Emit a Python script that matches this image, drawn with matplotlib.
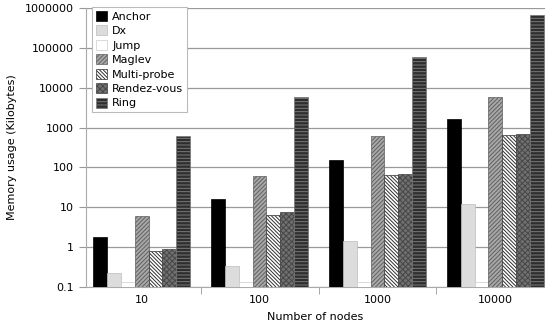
import numpy as np
import matplotlib
matplotlib.use("Agg")
from matplotlib import pyplot as plt

# Memory usage per algorithm (Kilobytes)
nodes = ["10", "100", "1000", "10000"]
anchor = [1.8, 16, 150, 1600]
dx = [0.22, 0.33, 1.4, 12]
jump = [0.13, 0.13, 0.13, 0.13]
maglev = [6, 60, 600, 6000]
multiprobe = [0.8, 6.5, 65, 650]
rendezvous = [0.9, 7.5, 70, 700]
ring = [600, 6000, 60000, 650000]

series = [
    ("Anchor", anchor, "black", None, "black"),
    ("Dx", dx, "#dcdcdc", None, "#bbbbbb"),
    ("Jump", jump, "white", None, "#cccccc"),
    ("Maglev", maglev, "#a8a8a8", "/" * 8, "#606060"),
    ("Multi-probe", multiprobe, "white", "\\" * 9, "#303030"),
    ("Rendez-vous", rendezvous, "#707070", "x" * 6, "#474747"),
    ("Ring", ring, "#2e2e2e", "-" * 5, "#7a7a7a"),
]

plt.rcParams['font.family'] = ['DejaVu Sans']
plt.rcParams['hatch.linewidth'] = 0.7

fig = plt.figure(figsize=(5.45, 3.31), dpi=100)
ax = fig.add_axes([0.158, 0.133, 0.842, 0.843])

x = np.arange(len(nodes))
w = 0.118
for i, (name, vals, fc, hatch, ec) in enumerate(series):
    off = (i - 3) * w
    plt.rcParams['hatch.color'] = ec
    ax.bar(x + off, vals, w, color=fc, hatch=hatch, edgecolor=ec,
           linewidth=0.5, label=name, zorder=3)

ax.set_yscale('log')
ax.set_ylim(0.1, 1000000)
ax.set_yticks([0.1, 1, 10, 100, 1000, 10000, 100000, 1000000])
ax.set_yticklabels(["0.1", "1", "10", "100", "1000", "10000", "100000", "1000000"])
ax.yaxis.set_minor_locator(matplotlib.ticker.NullLocator())
ax.set_xlim(-0.47, 3.42)
ax.set_xticks(x)
ax.set_xticklabels(nodes)
ax.set_xticks([0.5, 1.5, 2.5], minor=True)
ax.tick_params(axis='x', which='major', length=0, labelsize=8, pad=6)
ax.tick_params(axis='x', which='minor', length=5, color='#999999')
ax.tick_params(axis='y', labelsize=8, length=5, color='#999999')

ax.grid(axis='y', color='#999999', linewidth=0.9, zorder=0)
for s in ['top', 'right']:
    ax.spines[s].set_visible(False)
for s in ['left', 'bottom']:
    ax.spines[s].set_color('#aaaaaa')

ax.set_xlabel("Number of nodes", fontsize=8, labelpad=5)
ax.set_ylabel("Memory usage (Kilobytes)", fontsize=8, labelpad=6)

leg = ax.legend(loc='upper left', fontsize=8, fancybox=False, framealpha=1,
                edgecolor='#bbbbbb', handlelength=1.0, handleheight=1.0,
                handletextpad=0.5, borderpad=0.35, labelspacing=0.33,
                borderaxespad=0.0, bbox_to_anchor=(0.012, 1.003))
leg.get_frame().set_linewidth(0.8)

fig.savefig("out.png", dpi=100)
